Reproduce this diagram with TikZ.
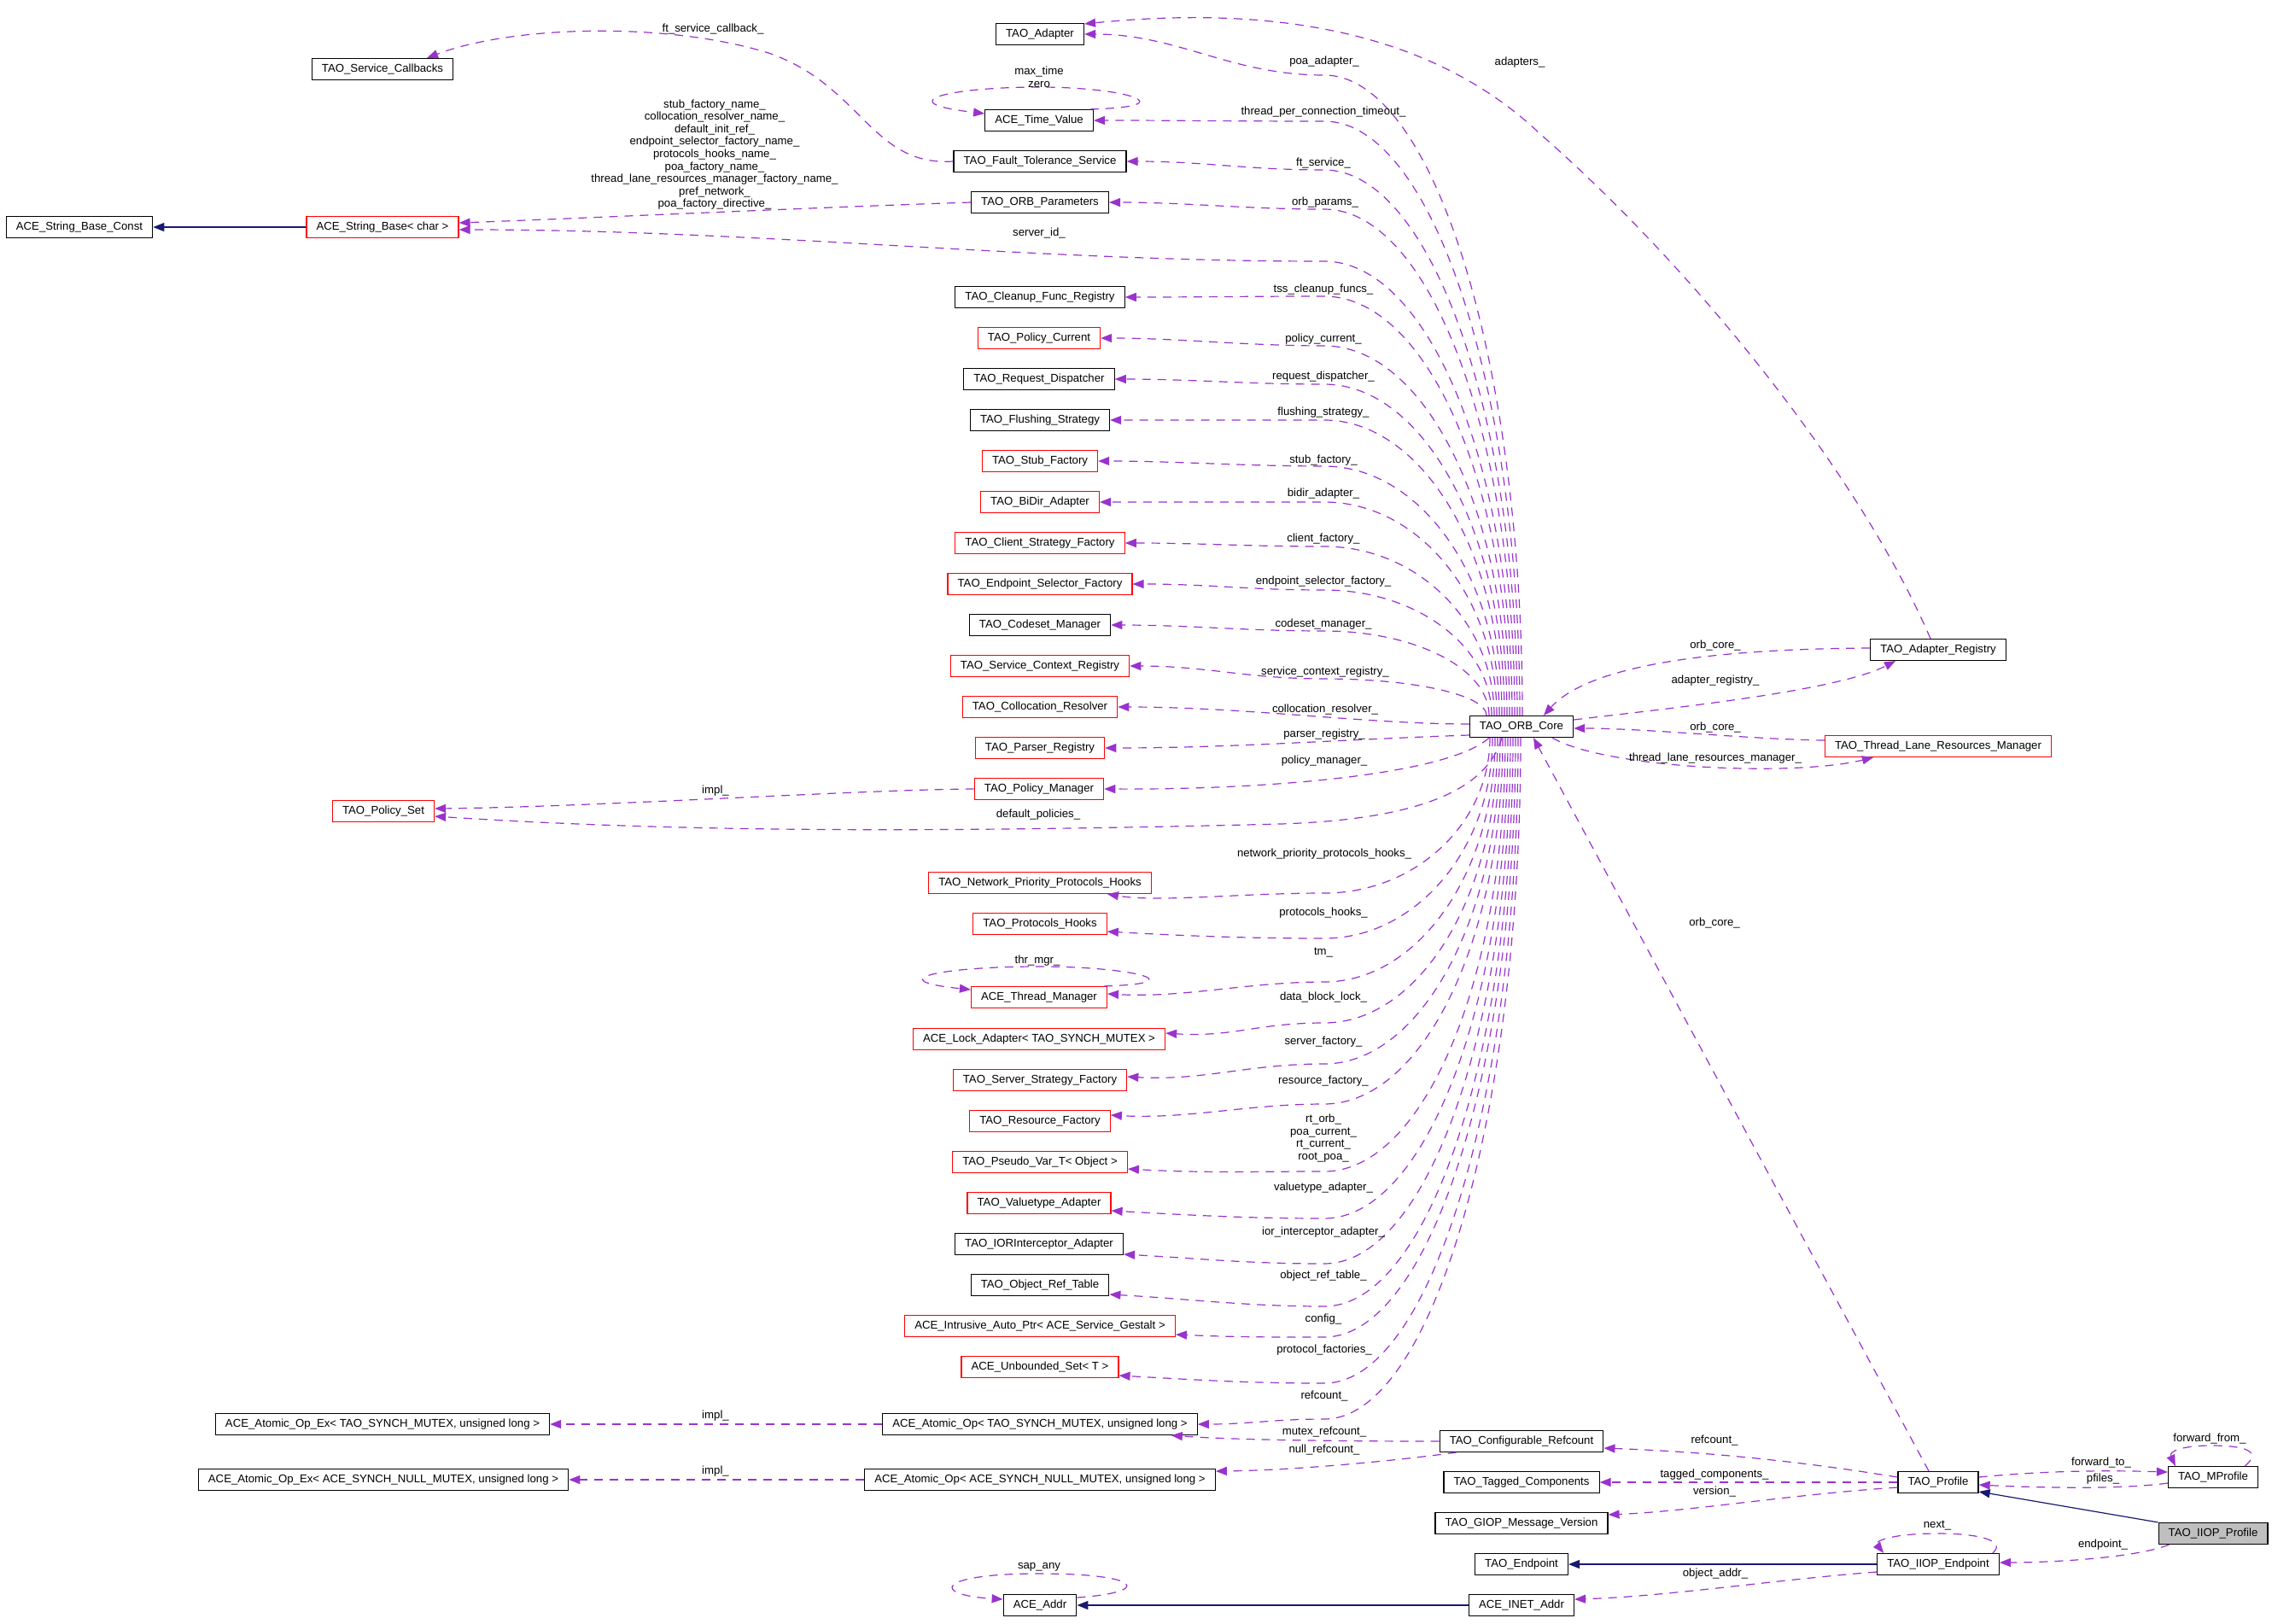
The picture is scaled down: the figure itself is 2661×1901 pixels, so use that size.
\documentclass[tikz,border=0pt]{standalone}
\usepackage{fontspec}
\setmainfont{Liberation Sans}
\usetikzlibrary{arrows.meta}

\definecolor{edgepurple}{HTML}{9A32CD}
\definecolor{inhnavy}{HTML}{191970}
\definecolor{boxgray}{HTML}{BFBFBF}
\newcommand{\dotfont}{\fontsize{6.6}{7.3}\selectfont}

\begin{document}
\begin{tikzpicture}[
    x=0.5pt, y=-0.5pt,
    every node/.style={font=\dotfont},
    cls/.style={draw, rectangle, line width=0.6pt, inner xsep=5.8pt, inner ysep=0pt, minimum height=12.5pt},
    redcls/.style={cls, draw=red},
    lbl/.style={inner sep=0pt, align=center},
    member/.style={draw=edgepurple, line width=0.6pt, dash pattern=on 5pt off 4pt, -{Triangle[length=6.5pt, width=5pt]}},
    inherit/.style={draw=inhnavy, line width=0.6pt, -{Triangle[length=6.5pt, width=5pt]}}
]

\path[use as bounding box, fill=white] (0,0) rectangle (2661,1901);

% classes, left part
\node[cls] (sbconst) at (93,266) {ACE\_String\_Base\_Const};
\node[redcls] (sbase) at (448,266) {ACE\_String\_Base< char >};
\node[cls] (scb) at (448,81) {TAO\_Service\_Callbacks};
\node[redcls] (pset) at (449,950) {TAO\_Policy\_Set};
\node[cls] (aopx) at (448,1668) {ACE\_Atomic\_Op\_Ex< TAO\_SYNCH\_MUTEX, unsigned long >};
\node[cls] (naopx) at (449,1733) {ACE\_Atomic\_Op\_Ex< ACE\_SYNCH\_NULL\_MUTEX, unsigned long >};

% classes, middle column
\node[cls] (adapter) at (1218,40) {TAO\_Adapter};
\node[cls] (tv) at (1217,141) {ACE\_Time\_Value};
\node[cls] (fts) at (1218,189) {TAO\_Fault\_Tolerance\_Service};
\node[cls] (params) at (1218,237) {TAO\_ORB\_Parameters};
\node[cls] (cleanup) at (1218,348) {TAO\_Cleanup\_Func\_Registry};
\node[redcls] (pcur) at (1217,396) {TAO\_Policy\_Current};
\node[cls] (reqd) at (1217,444) {TAO\_Request\_Dispatcher};
\node[cls] (flush) at (1218,492) {TAO\_Flushing\_Strategy};
\node[redcls] (stubf) at (1218,540) {TAO\_Stub\_Factory};
\node[redcls] (bidir) at (1218,588) {TAO\_BiDir\_Adapter};
\node[redcls] (csf) at (1218,636) {TAO\_Client\_Strategy\_Factory};
\node[redcls] (esf) at (1218,684) {TAO\_Endpoint\_Selector\_Factory};
\node[cls] (codeset) at (1218,732) {TAO\_Codeset\_Manager};
\node[redcls] (scr) at (1218,780) {TAO\_Service\_Context\_Registry};
\node[redcls] (coll) at (1218,828) {TAO\_Collocation\_Resolver};
\node[redcls] (parser) at (1218,876) {TAO\_Parser\_Registry};
\node[redcls] (pmgr) at (1217,924) {TAO\_Policy\_Manager};
\node[redcls] (nph) at (1218,1034) {TAO\_Network\_Priority\_Protocols\_Hooks};
\node[redcls] (phooks) at (1218,1082) {TAO\_Protocols\_Hooks};
\node[redcls] (tmgr) at (1217,1168) {ACE\_Thread\_Manager};
\node[redcls] (lock) at (1217,1217) {ACE\_Lock\_Adapter< TAO\_SYNCH\_MUTEX >};
\node[redcls] (ssf) at (1218,1265) {TAO\_Server\_Strategy\_Factory};
\node[redcls] (rfac) at (1218,1313) {TAO\_Resource\_Factory};
\node[redcls] (pvar) at (1218,1361) {TAO\_Pseudo\_Var\_T< Object >};
\node[redcls] (vta) at (1217,1409) {TAO\_Valuetype\_Adapter};
\node[cls] (iora) at (1217,1457) {TAO\_IORInterceptor\_Adapter};
\node[cls] (ort) at (1218,1505) {TAO\_Object\_Ref\_Table};
\node[redcls] (iap) at (1218,1553) {ACE\_Intrusive\_Auto\_Ptr< ACE\_Service\_Gestalt >};
\node[redcls] (uset) at (1218,1601) {ACE\_Unbounded\_Set< T >};
\node[cls] (aop) at (1218,1668) {ACE\_Atomic\_Op< TAO\_SYNCH\_MUTEX, unsigned long >};
\node[cls] (naop) at (1218,1733) {ACE\_Atomic\_Op< ACE\_SYNCH\_NULL\_MUTEX, unsigned long >};
\node[cls] (addr) at (1218,1880) {ACE\_Addr};

% classes, right part
\node[cls] (core) at (1782,851) {TAO\_ORB\_Core};
\node[cls] (areg) at (2270,761) {TAO\_Adapter\_Registry};
\node[redcls] (tlrm) at (2270,874) {TAO\_Thread\_Lane\_Resources\_Manager};
\node[cls] (cref) at (1782,1688) {TAO\_Configurable\_Refcount};
\node[cls] (tagged) at (1782,1736) {TAO\_Tagged\_Components};
\node[cls] (giop) at (1782,1784) {TAO\_GIOP\_Message\_Version};
\node[cls] (endp) at (1782,1832) {TAO\_Endpoint};
\node[cls] (inet) at (1782,1880) {ACE\_INET\_Addr};
\node[cls] (profile) at (2270,1736) {TAO\_Profile};
\node[cls] (mprofile) at (2592,1730) {TAO\_MProfile};
\node[cls, fill=boxgray] (iiop) at (2592,1796) {TAO\_IIOP\_Profile};
\node[cls] (iiope) at (2270,1832) {TAO\_IIOP\_Endpoint};

% inheritance
\draw[inherit] (sbase.west) -- (sbconst.east);
\draw[inherit] (iiop.north west) -- ([yshift=-5.5pt]profile.east);
\draw[inherit] (iiope.west) -- (endp.east);
\draw[inherit] (inet.west) -- (addr.east);

% members of TAO_ORB_Core, upper bundle
\draw[member] ([xshift=0.5pt]core.north) .. controls +(0,-413) and +(128,0) .. (1551,88) .. controls +(-110,0) and +(110,0) .. (adapter.east);
\draw[member] ([xshift=-1pt]core.north) .. controls +(0,-383) and +(126,0) .. (1551,142) .. controls +(-110,0) and +(110,0) .. (tv.east);
\draw[member] ([xshift=-2.5pt]core.north) .. controls +(0,-352) and +(124,0) .. (1551,199) .. controls +(-90,0) and +(90,0) .. (fts.east);
\draw[member] ([xshift=-4pt]core.north) .. controls +(0,-327) and +(123,0) .. (1551,245) .. controls +(-90,0) and +(90,0) .. (params.east);
\draw[member] ([xshift=-5.5pt]core.north) .. controls +(0,-293) and +(121,0) .. (1551,306) .. controls +(-350,0) and +(350,0) .. ([yshift=-1.5pt]sbase.east);
\draw[member] ([xshift=-7pt]core.north) .. controls +(0,-271) and +(119,0) .. (1551,347) .. controls +(-90,0) and +(90,0) .. (cleanup.east);
\draw[member] ([xshift=-8.5pt]core.north) .. controls +(0,-239) and +(118,0) .. (1551,405) .. controls +(-90,0) and +(90,0) .. (pcur.east);
\draw[member] ([xshift=-10pt]core.north) .. controls +(0,-214) and +(116,0) .. (1551,450) .. controls +(-90,0) and +(90,0) .. (reqd.east);
\draw[member] ([xshift=-11.5pt]core.north) .. controls +(0,-191) and +(114,0) .. (1551,492) .. controls +(-90,0) and +(90,0) .. (flush.east);
\draw[member] ([xshift=-13pt]core.north) .. controls +(0,-161) and +(113,0) .. (1551,546) .. controls +(-90,0) and +(90,0) .. (stubf.east);
\draw[member] ([xshift=-14.5pt]core.north) .. controls +(0,-138) and +(111,0) .. (1551,588) .. controls +(-90,0) and +(90,0) .. (bidir.east);
\draw[member] ([xshift=-16pt]core.north) .. controls +(0,-109) and +(109,0) .. (1551,640) .. controls +(-90,0) and +(90,0) .. (csf.east);
\draw[member] ([xshift=-17.5pt]core.north) .. controls +(0,-81) and +(108,0) .. (1551,691) .. controls +(-90,0) and +(90,0) .. (esf.east);
\draw[member] ([xshift=-19pt]core.north) .. controls +(0,-55) and +(106,0) .. (1551,739) .. controls +(-90,0) and +(90,0) .. (codeset.east);
\draw[member] ([xshift=-20.5pt]core.north) .. controls +(0,-24) and +(105,0) .. (1551,795) .. controls +(-90,0) and +(90,0) .. (scr.east);
\draw[member] ([yshift=1.5pt]core.west) .. controls +(-120,0) and +(150,0) .. (coll.east);
\draw[member] ([yshift=-5pt]core.west) .. controls +(-150,5) and +(150,0) .. (parser.east);
\draw[member] ([xshift=-19pt]core.south) .. controls (1700,905) and (1500,925) .. (pmgr.east);
\draw[member] ([xshift=-11.5pt]core.south) .. controls (1740,930) and (1650,960) .. (1500,965) .. controls (1100,975) and (800,975) .. ([yshift=-3pt]pset.east);
\draw[member] (pmgr.west) .. controls (1000,925) and (700,945) .. ([yshift=1.5pt]pset.east);

% members of TAO_ORB_Core, lower bundle
\draw[member] ([xshift=-18.5pt]core.south) .. controls +(0,100) and +(107,0) .. (1551,1046) .. controls +(-100,0) and +(60,10) .. ([xshift=-26pt]nph.south east);
\draw[member] ([xshift=-17pt]core.south) .. controls +(0,129) and +(108,0) .. (1551,1099) .. controls +(-90,0) and +(90,5) .. ([yshift=-4.5pt]phooks.east);
\draw[member] ([xshift=-15.5pt]core.south) .. controls +(0,157) and +(110,0) .. (1551,1150) .. controls +(-90,0) and +(90,5) .. ([yshift=2pt]tmgr.east);
\draw[member] ([xshift=-14pt]core.south) .. controls +(0,184) and +(112,0) .. (1551,1198) .. controls +(-80,0) and +(80,5) .. ([yshift=3.5pt]lock.east);
\draw[member] ([xshift=-12.5pt]core.south) .. controls +(0,210) and +(113,0) .. (1551,1246) .. controls +(-90,0) and +(90,5) .. ([yshift=2pt]ssf.east);
\draw[member] ([xshift=-11pt]core.south) .. controls +(0,236) and +(115,0) .. (1551,1293) .. controls +(-90,0) and +(90,5) .. ([yshift=3.5pt]rfac.east);
\draw[member] ([xshift=-9.5pt]core.south) .. controls +(0,279) and +(117,0) .. (1551,1372) .. controls +(-90,0) and +(90,5) .. ([yshift=-4pt]pvar.east);
\draw[member] ([xshift=-8pt]core.south) .. controls +(0,310) and +(118,0) .. (1551,1427) .. controls +(-90,0) and +(90,5) .. ([yshift=-4.5pt]vta.east);
\draw[member] ([xshift=-6.5pt]core.south) .. controls +(0,339) and +(120,0) .. (1551,1480) .. controls +(-90,0) and +(90,5) .. ([yshift=-6pt]iora.east);
\draw[member] ([xshift=-5pt]core.south) .. controls +(0,366) and +(122,0) .. (1551,1530) .. controls +(-90,0) and +(90,5) .. ([yshift=-5.5pt]ort.east);
\draw[member] ([xshift=-3.5pt]core.south) .. controls +(0,386) and +(123,0) .. (1551,1566) .. controls +(-70,0) and +(70,3) .. ([yshift=-5pt]iap.east);
\draw[member] ([xshift=-2pt]core.south) .. controls +(0,416) and +(125,0) .. (1551,1620) .. controls +(-90,0) and +(90,5) .. ([yshift=-5pt]uset.east);
\draw[member] ([xshift=-0.5pt]core.south) .. controls +(0,439) and +(127,0) .. (1551,1662) .. controls +(-60,0) and +(60,0) .. (aop.east);

% other members
\draw[member] ([xshift=-4.5pt]areg.north) .. controls (2180,560) and (1990,320) .. (1804,157) .. controls (1660,20) and (1450,10) .. ([yshift=6pt]adapter.east);
\draw[member] (fts.west) .. controls (1020,195) and (1010,100) .. (900,62) .. controls (780,25) and (600,30) .. ([xshift=26pt]scb.north);
\draw[member] (params.west) .. controls (950,243) and (700,255) .. ([yshift=2.5pt]sbase.east);
\draw[member] ([yshift=1pt]areg.west) .. controls (2000,760) and (1860,780) .. ([xshift=13pt]core.north);
\draw[member] ([yshift=4pt]core.east) .. controls (1950,830) and (2150,810) .. ([xshift=-25pt]areg.south);
\draw[member] ([yshift=3.5pt]tlrm.west) .. controls (2050,866) and (1930,853) .. ([yshift=-1pt]core.east);
\draw[member] ([xshift=18pt]core.south) .. controls (1880,900) and (2100,910) .. ([xshift=-38pt]tlrm.south);
\draw[member] ([xshift=-5.5pt]profile.north) -- ([xshift=7pt]core.south);
\draw[member] ([yshift=3pt]profile.west) .. controls (2100,1710) and (1990,1700) .. ([yshift=-4pt]cref.east);
\draw[member] (profile.west) -- (tagged.east);
\draw[member] ([yshift=-3pt]profile.west) .. controls (2100,1750) and (1980,1770) .. ([yshift=5pt]giop.east);
\draw[member] ([yshift=3pt]profile.east) .. controls (2400,1722) and (2470,1722) .. ([yshift=3pt]mprofile.west);
\draw[member] ([yshift=-3.5pt]mprofile.west) .. controls (2480,1745) and (2380,1742) .. ([yshift=-1.5pt]profile.east);
\draw[member] ([xshift=6.5pt]iiop.south west) .. controls (2500,1825) and (2400,1830) .. ([yshift=1pt]iiope.east);
\draw[member] ([yshift=-4.5pt]iiope.west) .. controls (2080,1850) and (1950,1870) .. ([yshift=3.5pt]inet.east);
\draw[member] (cref.west) .. controls (1550,1688) and (1440,1686) .. ([xshift=-15.5pt]aop.south east);
\draw[member] ([xshift=10pt]cref.south west) .. controls (1640,1710) and (1520,1722) .. ([yshift=5pt]naop.east);
\draw[member] (aop.west) -- (aopx.east);
\draw[member] (naop.west) -- (naopx.east);

% self loops
\draw[member] ([xshift=-2pt]tv.north east) .. controls (1390,125) and (1320,102) .. (1217,102) .. controls (1110,102) and (1040,120) .. ([yshift=4pt]tv.west);
\draw[member] ([xshift=-2pt]tmgr.north east) .. controls (1400,1152) and (1330,1132) .. (1217,1132) .. controls (1100,1132) and (1030,1148) .. ([yshift=4.5pt]tmgr.west);
\draw[member] ([yshift=4.5pt]addr.east) .. controls (1350,1865) and (1340,1843) .. (1217,1843) .. controls (1095,1843) and (1090,1868) .. ([yshift=3.5pt]addr.west);
\draw[member] ([xshift=-8pt]mprofile.north east) .. controls (2650,1700) and (2630,1693) .. (2590,1693) .. controls (2555,1693) and (2540,1700) .. ([xshift=4.5pt]mprofile.north west);
\draw[member] ([xshift=-4pt]iiope.north east) .. controls (2350,1805) and (2320,1796) .. (2270,1796) .. controls (2215,1796) and (2195,1805) .. ([xshift=4pt]iiope.north west);

% edge labels
\node[lbl] (lcallback) at (835,34) {ft\_service\_callback\_};
\node[lbl] (lnames) at (837,181) {stub\_factory\_name\_\\collocation\_resolver\_name\_\\default\_init\_ref\_\\endpoint\_selector\_factory\_name\_\\protocols\_hooks\_name\_\\poa\_factory\_name\_\\thread\_lane\_resources\_manager\_factory\_name\_\\pref\_network\_\\poa\_factory\_directive\_};
\node[lbl] (ltime) at (1217,90) {max\_time\\zero};
\node[lbl] (ladapters) at (1780,73) {adapters\_};
\node[lbl] (lpoa) at (1551,72) {poa\_adapter\_};
\node[lbl] (ltpc) at (1550,131) {thread\_per\_connection\_timeout\_};
\node[lbl] (lft) at (1550,191) {ft\_service\_};
\node[lbl] (lparams) at (1552,237) {orb\_params\_};
\node[lbl] (lserver) at (1217,273) {server\_id\_};
\node[lbl] (ltss) at (1550,339) {tss\_cleanup\_funcs\_};
\node[lbl] (lpcur) at (1550,397) {policy\_current\_};
\node[lbl] (lreqd) at (1550,441) {request\_dispatcher\_};
\node[lbl] (lflush) at (1550,483) {flushing\_strategy\_};
\node[lbl] (lstub) at (1550,539) {stub\_factory\_};
\node[lbl] (lbidir) at (1550,578) {bidir\_adapter\_};
\node[lbl] (lcsf) at (1550,631) {client\_factory\_};
\node[lbl] (lesf) at (1550,681) {endpoint\_selector\_factory\_};
\node[lbl] (lcodeset) at (1550,731) {codeset\_manager\_};
\node[lbl] (lscr) at (1552,787) {service\_context\_registry\_};
\node[lbl] (lcoll) at (1552,831) {collocation\_resolver\_};
\node[lbl] (lparser) at (1551,860) {parser\_registry\_};
\node[lbl] (lpmgr) at (1551,891) {policy\_manager\_};
\node[lbl] (limpl) at (838,926) {impl\_};
\node[lbl] (ldefault) at (1216,954) {default\_policies\_};
\node[lbl] (lnph) at (1551,1000) {network\_priority\_protocols\_hooks\_};
\node[lbl] (lphooks) at (1550,1069) {protocols\_hooks\_};
\node[lbl] (ltm) at (1550,1116) {tm\_};
\node[lbl] (lthr) at (1215,1125) {thr\_mgr\_};
\node[lbl] (llock) at (1550,1168) {data\_block\_lock\_};
\node[lbl] (lssf) at (1550,1220) {server\_factory\_};
\node[lbl] (lrfac) at (1550,1266) {resource\_factory\_};
\node[lbl] (lpvar) at (1550,1333) {rt\_orb\_\\poa\_current\_\\rt\_current\_\\root\_poa\_};
\node[lbl] (lvta) at (1550,1391) {valuetype\_adapter\_};
\node[lbl] (liora) at (1550,1443) {ior\_interceptor\_adapter\_};
\node[lbl] (lort) at (1550,1494) {object\_ref\_table\_};
\node[lbl] (lconfig) at (1550,1545) {config\_};
\node[lbl] (luset) at (1551,1581) {protocol\_factories\_};
\node[lbl] (lrefcore) at (1551,1635) {refcount\_};
\node[lbl] (lmutex) at (1551,1677) {mutex\_refcount\_};
\node[lbl] (lnull) at (1551,1698) {null\_refcount\_};
\node[lbl] (limplm) at (838,1658) {impl\_};
\node[lbl] (limpln) at (838,1723) {impl\_};
\node[lbl] (lsap) at (1217,1835) {sap\_any};
\node[lbl] (lorbreg) at (2009,756) {orb\_core\_};
\node[lbl] (lareg) at (2009,797) {adapter\_registry\_};
\node[lbl] (lorbtl) at (2009,852) {orb\_core\_};
\node[lbl] (ltlrm) at (2009,888) {thread\_lane\_resources\_manager\_};
\node[lbl] (lorbprof) at (2008,1081) {orb\_core\_};
\node[lbl] (lrefprof) at (2008,1687) {refcount\_};
\node[lbl] (ltagged) at (2008,1727) {tagged\_components\_};
\node[lbl] (lversion) at (2008,1747) {version\_};
\node[lbl] (lfwdfrom) at (2588,1685) {forward\_from\_};
\node[lbl] (lfwdto) at (2461,1713) {forward\_to\_};
\node[lbl] (lpfiles) at (2463,1732) {pfiles\_};
\node[lbl] (lnext) at (2269,1787) {next\_};
\node[lbl] (lendpoint) at (2463,1809) {endpoint\_};
\node[lbl] (lobjaddr) at (2009,1843) {object\_addr\_};

\end{tikzpicture}
\end{document}
